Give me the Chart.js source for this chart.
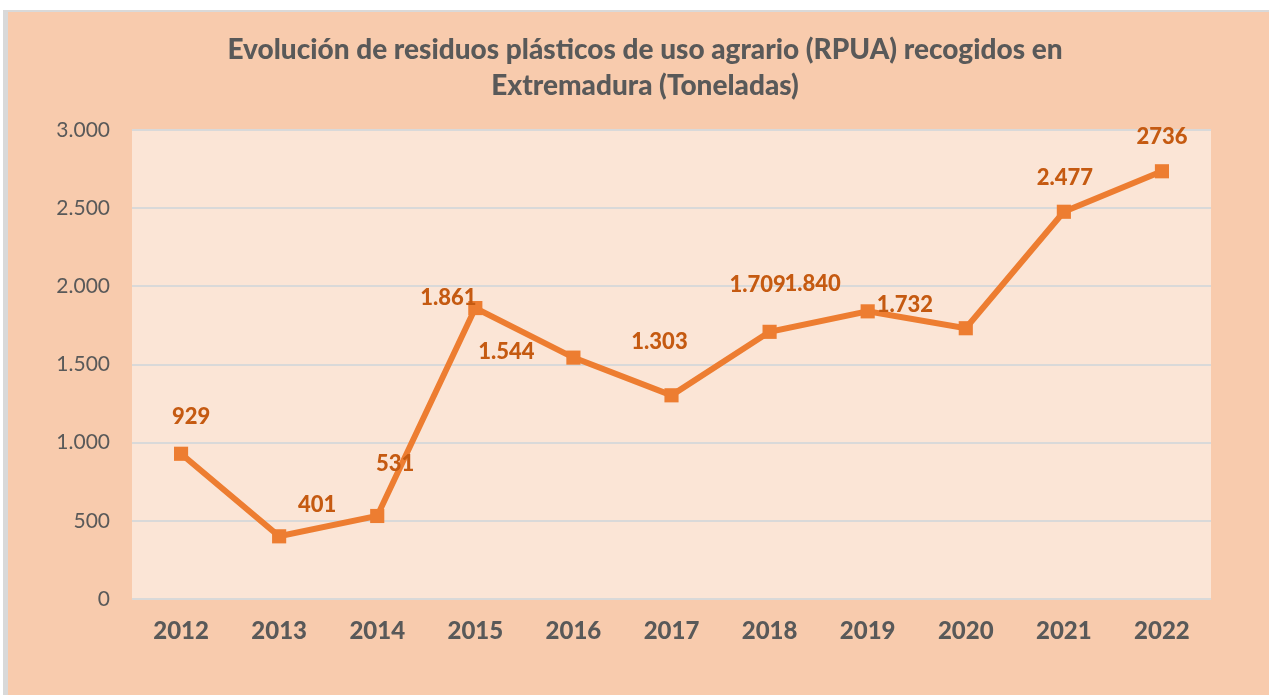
<!DOCTYPE html>
<html>
<head>
<meta charset="utf-8">
<script src="https://cdn.jsdelivr.net/npm/chart.js@4"></script>
<style>
  html, body { margin: 0; padding: 0; background: #fff; }
  canvas { display: block; }
</style>
</head>
<body>
<canvas id="grafico" width="1269" height="695"></canvas>
<script>
const anios = ["2012", "2013", "2014", "2015", "2016", "2017", "2018", "2019", "2020", "2021", "2022"];
const toneladas = [929, 401, 531, 1861, 1544, 1303, 1709, 1840, 1732, 2477, 2736];
const etiquetas = ["929", "401", "531", "1.861", "1.544", "1.303", "1.709", "1.840", "1.732", "2.477", "2736"];
const ticksY = [0, 500, 1000, 1500, 2000, 2500, 3000];

// desplazamiento de cada etiqueta respecto a su punto (como en el original)
const despEtiqueta = [[10, -37], [38, -31], [18, -52], [-27, -10], [-67, -6], [-12, -53], [-12, -47], [-55, -27], [-61, -23], [1, -34], [0, -34]];

const titulo = ["Evolución de residuos plásticos de uso agrario (RPUA) recogidos en", "Extremadura (Toneladas)"];

const naranja = "#ED7D31";
const naranjaTexto = "#C55A11";
const gris = "#595959";

const fmtMiles = v => String(v).replace(/\B(?=(\d{3})+(?!\d))/g, ".");

const fondo = {
  id: "fondo",
  beforeDraw(chart) {
    const { ctx, chartArea: a, width, height } = chart;
    ctx.save();
    ctx.fillStyle = "#D9D9D9";
    ctx.fillRect(3, 10, width - 3, height - 10);
    ctx.fillStyle = "#F8CBAD";
    ctx.fillRect(8, 12, width - 8, height - 12);
    ctx.fillStyle = "#FBE5D6";
    ctx.fillRect(a.left, a.top, a.right - a.left, a.bottom - a.top);
    ctx.fillStyle = gris;
    ctx.font = "900 28px Lato";
    ctx.textAlign = "center";
    ctx.textBaseline = "middle";
    ctx.fillText(titulo[0], 645, 50);
    ctx.fillText(titulo[1], 645, 86);
    ctx.restore();
  }
};

const etiquetasDatos = {
  id: "etiquetasDatos",
  afterDatasetsDraw(chart) {
    const { ctx } = chart;
    const meta = chart.getDatasetMeta(0);
    ctx.save();
    ctx.fillStyle = naranjaTexto;
    ctx.font = "900 22px Lato";
    ctx.textAlign = "center";
    ctx.textBaseline = "middle";
    meta.data.forEach((p, i) => {
      const [dx, dy] = despEtiqueta[i];
      ctx.fillText(etiquetas[i], p.x + dx, p.y + dy);
    });
    ctx.restore();
  }
};

new Chart(document.getElementById("grafico"), {
  type: "line",
  data: {
    labels: anios,
    datasets: [{
      data: toneladas,
      borderColor: naranja,
      backgroundColor: naranja,
      borderWidth: 6,
      pointStyle: "rect",
      pointRadius: 10,
      pointHoverRadius: 10,
      pointBorderWidth: 0,
      tension: 0
    }]
  },
  options: {
    responsive: false,
    animation: false,
    events: [],
    layout: { padding: { top: 130, right: 58, left: 0, bottom: 0 } },
    plugins: { legend: { display: false }, tooltip: { enabled: false } },
    scales: {
      x: {
        offset: true,
        grid: { display: false, drawTicks: false },
        border: { display: false },
        ticks: { color: gris, font: { family: "Lato", size: 24, weight: "900" }, padding: 18 },
        afterFit: s => { s.height = 96; }
      },
      y: {
        min: 0,
        max: 3000,
        afterBuildTicks: s => { s.ticks = ticksY.map(v => ({ value: v })); },
        grid: { color: "#D9D9D9", lineWidth: 2, drawTicks: false },
        border: { display: false },
        ticks: { color: gris, font: { family: "Lato", size: 21 }, padding: 22, callback: v => fmtMiles(v) },
        afterFit: s => { s.width = 132; }
      }
    }
  },
  plugins: [fondo, etiquetasDatos]
});
</script>
</body>
</html>
